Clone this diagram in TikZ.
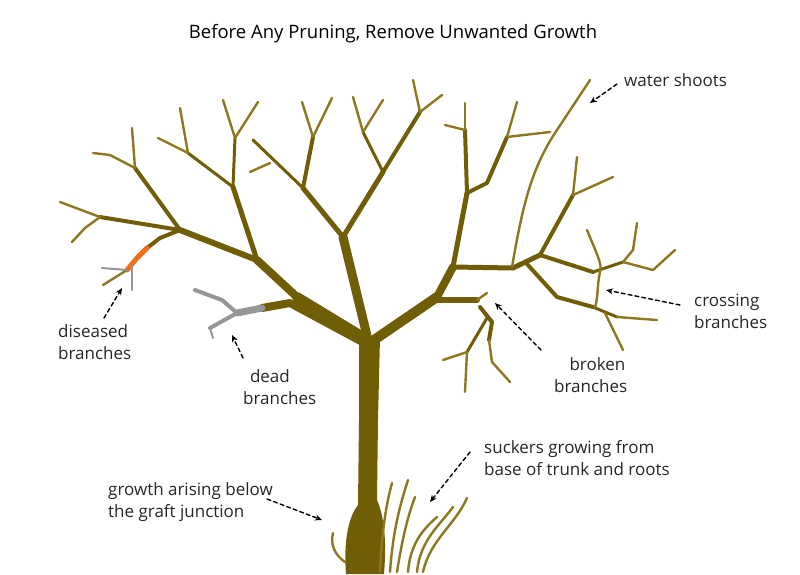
\documentclass[tikz,border=0pt]{standalone}
\usepackage{fontspec}
\setmainfont{Open Sans}
\usetikzlibrary{arrows.meta}
\definecolor{bark}{RGB}{112,94,6}
\definecolor{twig}{RGB}{140,120,30}
\definecolor{dead}{RGB}{150,150,150}
\definecolor{sick}{RGB}{240,110,20}
\begin{document}
\begin{tikzpicture}[x=1pt,y=-1pt,line cap=round,line join=round,
  br/.style={draw=bark,line width=#1},
  tw/.style={draw=twig,line width=2.4},
  dd/.style={draw=dead,line width=#1},
  lab/.style={font=\fontsize{17}{22}\selectfont,text=black!85,align=left,inner sep=0},
  arr/.style={-{Stealth[length=7pt,width=6pt]},dashed,dash pattern=on 4pt off 3pt,line width=1.4}]
\useasboundingbox (0,0) rectangle (800,574);
% trunk
\fill[bark] (359,337) -- (380,337) -- (378,420) -- (377,500) .. controls (386,520) and (386,550) .. (384,574) -- (346,574) .. controls (344,550) and (346,520) .. (358,505) -- (359,420) -- cycle;
% left main
\draw[br=10] (368,340) -- (297,297);
\draw[br=8] (297,297) -- (257,260);
\draw[br=6] (257,260) -- (180,230);
\draw[br=4] (180,230) -- (100,217);
\draw[tw] (100,217) -- (60,202); \draw[tw] (100,217) -- (85,228) -- (72,242);
\draw[br=4] (180,230) -- (135,168); \draw[tw] (135,168) -- (132,128); \draw[tw] (135,168) -- (110,155) -- (93,153);
\draw[br=4] (180,230) -- (160,238) -- (147,248);
\draw[sick,line width=5] (147,248) -- (137,258) -- (127,270);
\draw[tw] (127,270) -- (103,285);
\draw[dd=2] (127,270) -- (102,268); \draw[dd=2] (132,265) -- (132,290);
\draw[br=5] (257,260) -- (233,187); \draw[br=3] (233,187) -- (235,138);
\draw[tw] (235,138) -- (223,100); \draw[tw] (235,138) -- (258,102);
\draw[br=3] (233,187) -- (188,153); \draw[tw] (188,153) -- (158,138); \draw[tw] (188,153) -- (180,108);
% dead branch
\draw[br=8] (368,345) -- (290,303) -- (262,308);
\draw[dd=7] (262,308) -- (237,313);
\draw[dd=4] (237,313) -- (222,300) -- (195,290);
\draw[dd=4] (237,313) -- (210,328); \draw[dd=2] (210,328) -- (213,338);
% center
\draw[br=9] (368,340) -- (343,237);
\draw[br=5] (343,237) -- (303,188); \draw[br=3] (303,188) -- (253,140);
\draw[tw] (270,163) -- (250,172);
\draw[br=4] (303,188) -- (313,137); \draw[tw] (313,137) -- (302,102); \draw[tw] (313,137) -- (332,98);
\draw[br=5] (343,237) -- (383,172);
\draw[br=3] (383,172) -- (363,132); \draw[tw] (363,132) -- (353,97); \draw[tw] (363,132) -- (383,100);
\draw[br=4] (383,172) -- (420,112); \draw[tw] (420,112) -- (413,80); \draw[tw] (420,112) -- (442,95);
% right main
\draw[br=10] (374,340) -- (437,297);
\draw[br=8] (437,297) -- (453,267);
\draw[br=5] (453,267) -- (513,268) -- (540,255);
\draw[br=4] (540,255) -- (593,272);
\draw[br=3] (593,272) -- (623,262); \draw[tw] (623,262) -- (633,250) -- (637,223);
\draw[tw] (623,262) -- (653,270) -- (675,250);
\draw[br=5] (453,267) -- (467,193); \draw[br=4] (467,193) -- (465,130);
\draw[tw] (465,130) -- (465,103); \draw[tw] (465,130) -- (445,125);
\draw[br=4] (467,193) -- (487,183) -- (507,137);
\draw[tw] (507,137) -- (517,102); \draw[tw] (507,137) -- (550,132);
\draw[tw] (512,267) .. controls (522,210) and (530,170) .. (557,130) -- (590,80);
\draw[br=4] (540,255) -- (573,195); \draw[tw] (573,195) -- (577,157); \draw[tw] (573,195) -- (613,177);
\draw[br=4] (527,264) -- (557,297) -- (593,307);
\draw[br=3] (593,307) -- (617,317); \draw[tw] (617,317) -- (657,320); \draw[tw] (605,313) -- (623,350);
\draw[tw] (587,230) .. controls (595,250) and (603,265) .. (600,272) .. controls (597,285) and (598,300) .. (595,307);
% broken
\draw[br=6] (437,300) -- (477,300); \draw[tw] (477,300) -- (487,293);
\draw[br=4] (480,307) -- (492,322) -- (489,340); \draw[tw] (489,340) -- (492,362) -- (510,382);
\draw[br=3] (487,318) -- (467,352); \draw[tw] (467,352) -- (443,360); \draw[tw] (467,352) -- (465,392);
% suckers
\draw[tw] (380,572) .. controls (382,530) and (386,505) .. (392,483);
\draw[tw] (390,572) .. controls (393,530) and (400,505) .. (408,480);
\draw[tw] (397,572) .. controls (402,540) and (408,515) .. (415,497);
\draw[tw] (408,572) .. controls (410,545) and (422,530) .. (437,517);
\draw[tw] (417,572) .. controls (420,540) and (440,525) .. (453,507);
\draw[tw] (423,572) .. controls (430,540) and (455,525) .. (467,498);
\draw[tw] (345,562) .. controls (335,555) and (330,545) .. (333,533);
% labels
\node (title) at (393,34) {\fontsize{18.5}{22}\selectfont Before Any Pruning, Remove Unwanted Growth};
\node[lab,anchor=west] (ws) at (624,80) {water shoots};
\node[lab,anchor=north west] (cb) at (694,294) {crossing\\branches};
\node[lab,anchor=north west] (bb) at (554,357) {\hspace*{0.9em}broken\\branches};
\node[lab,anchor=north west] (db) at (243,369) {\hspace*{0.4em}dead\\branches};
\node[lab,anchor=north west] (ib) at (58,324) {diseased\\branches};
\node[lab,anchor=north west] (sk) at (484,440) {suckers growing from\\base of trunk and roots};
\node[lab,anchor=north west] (gr) at (108,482) {growth arising below\\the graft junction};
\coordinate (wsT) at (590,103); \coordinate (cbT) at (606,290);
\coordinate (bbT) at (495,303); \coordinate (dbT) at (232,335);
\coordinate (ibT) at (122,288); \coordinate (skT) at (430,502);
\coordinate (grT) at (322,520);
\draw[arr] (617,84) -- (wsT);
\draw[arr] (680,305) -- (cbT);
\draw[arr] (541,350) -- (bbT);
\draw[arr] (243,358) -- (dbT);
\draw[arr] (104,318) -- (ibT);
\draw[arr] (470,452) -- (skT);
\draw[arr] (267,499) -- (grT);
\end{tikzpicture}
\end{document}
